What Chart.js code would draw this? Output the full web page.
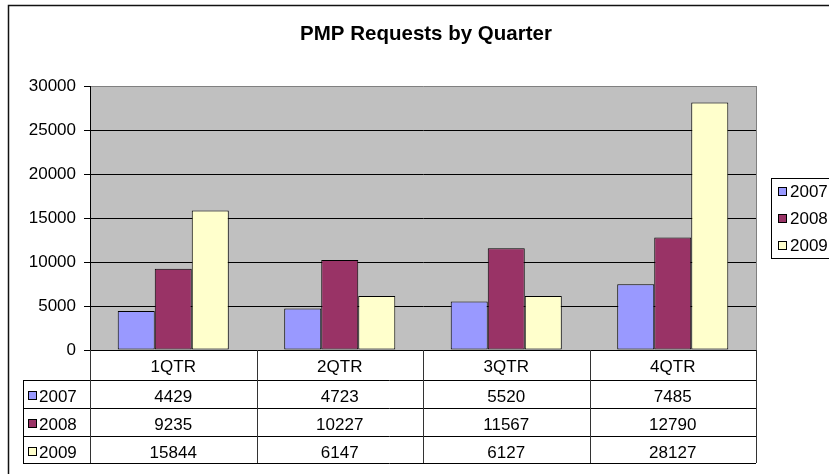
<!DOCTYPE html>
<html lang="en">
<head>
    <meta charset="UTF-8">
    <script src="https://cdn.jsdelivr.net/npm/chart.js"></script>
    <title>PMP Requests by Quarter</title>
    <style>
        body { margin: 0; background: #fff; }
        #wrap { width: 829px; height: 474px; }
    </style>
</head>
<body>
    <div id="wrap"><canvas id="myChart"></canvas></div>
    <script>
        const quarters = ['1QTR', '2QTR', '3QTR', '4QTR'];
        const years = ['2007', '2008', '2009'];
        const req2007 = [4429, 4723, 5520, 7485];
        const req2008 = [9235, 10227, 11567, 12790];
        const req2009 = [15844, 6147, 6127, 28127];
        const yMax = 30000;
        const yStep = 5000;
        const colors = ['#9999FF', '#993366', '#FFFFCC'];
        const FONT = '"Liberation Sans", Arial, sans-serif';

        // excel style bits: grey plot, title, frame, data table, side legend
        const excelBits = {
            id: 'excelBits',
            beforeDraw(chart) {
                const a = chart.chartArea;
                const ctx = chart.ctx;
                ctx.save();
                ctx.fillStyle = '#C0C0C0';
                ctx.fillRect(a.left, a.top, a.right - a.left, a.bottom - a.top);
                ctx.restore();
            },
            afterDraw(chart) {
                const a = chart.chartArea;
                const ctx = chart.ctx;
                const x = chart.scales.x;
                const sets = chart.data.datasets;
                ctx.save();

                // plot edge right
                ctx.strokeStyle = '#808080';
                ctx.lineWidth = 1;
                ctx.beginPath();
                ctx.moveTo(a.right + 0.5, a.top);
                ctx.lineTo(a.right + 0.5, a.bottom);
                ctx.stroke();

                // outer frame (cut at right and bottom)
                ctx.strokeStyle = '#111';
                ctx.lineWidth = 1.5;
                ctx.beginPath();
                ctx.moveTo(8.5, 474);
                ctx.lineTo(8.5, 5.5);
                ctx.lineTo(829, 5.5);
                ctx.stroke();

                // title
                ctx.fillStyle = '#000';
                ctx.font = 'bold 20.5px ' + FONT;
                ctx.textAlign = 'center';
                ctx.textBaseline = 'alphabetic';
                ctx.fillText('PMP Requests by Quarter', 426, 40);

                // data table
                const half = (a.right - a.left) / quarters.length / 2;
                const tableLeft = 23;
                const headTop = a.bottom;
                const rows = [headTop + 30, headTop + 58, headTop + 86, headTop + 113];
                ctx.lineWidth = 1;
                ctx.strokeStyle = '#000';
                ctx.beginPath();
                rows.forEach(r => {
                    ctx.moveTo(tableLeft, Math.round(r) + 0.5);
                    ctx.lineTo(a.right, Math.round(r) + 0.5);
                });
                ctx.moveTo(tableLeft + 0.5, rows[0]);
                ctx.lineTo(tableLeft + 0.5, rows[3]);
                ctx.stroke();
                ctx.strokeStyle = '#333';
                ctx.beginPath();
                for (let i = 0; i <= quarters.length; i++) {
                    const px = Math.round(a.left + i * half * 2) + 0.5;
                    ctx.moveTo(px, headTop);
                    ctx.lineTo(px, rows[3]);
                }
                ctx.stroke();

                ctx.font = '17px ' + FONT;
                ctx.fillStyle = '#000';
                quarters.forEach((q, i) => {
                    const cx = x.getPixelForValue(i);
                    ctx.textAlign = 'center';
                    ctx.fillText(q, cx, headTop + 22);
                    sets.forEach((ds, j) => {
                        ctx.fillText(String(ds.data[i]), cx, rows[j] + 21.5);
                    });
                });
                sets.forEach((ds, j) => {
                    ctx.fillStyle = ds.backgroundColor;
                    ctx.fillRect(28.5, rows[j] + 11.5, 8, 8);
                    ctx.strokeStyle = '#000';
                    ctx.strokeRect(28.5, rows[j] + 11.5, 8, 8);
                    ctx.fillStyle = '#000';
                    ctx.textAlign = 'left';
                    ctx.fillText(ds.label, 39, rows[j] + 21.5);
                });

                // side legend
                ctx.strokeStyle = '#000';
                ctx.strokeRect(771.5, 178.5, 80, 80);
                sets.forEach((ds, j) => {
                    const cy = 191 + j * 27;
                    ctx.fillStyle = ds.backgroundColor;
                    ctx.fillRect(778.5, cy - 3.5, 8, 8);
                    ctx.strokeRect(778.5, cy - 3.5, 8, 8);
                    ctx.fillStyle = '#000';
                    ctx.textAlign = 'left';
                    ctx.fillText(ds.label, 790, cy + 6);
                });
                ctx.restore();
            }
        };

        const series = [req2007, req2008, req2009];
        const ctx = document.getElementById('myChart');
        new Chart(ctx, {
            type: 'bar',
            data: {
                labels: quarters,
                datasets: years.map((y, i) => ({
                    label: y,
                    data: series[i],
                    backgroundColor: colors[i],
                    borderColor: '#000',
                    borderWidth: 1,
                    borderSkipped: false,
                    barPercentage: 1.0,
                    categoryPercentage: 0.667
                }))
            },
            options: {
                responsive: true,
                maintainAspectRatio: false,
                animation: false,
                layout: { padding: { top: 86, bottom: 124, right: 73, left: 0 } },
                scales: {
                    x: { display: false },
                    y: {
                        min: 0,
                        max: yMax,
                        afterFit: (scale) => { scale.width = 90; },
                        ticks: {
                            stepSize: yStep,
                            color: '#000',
                            padding: 8,
                            font: { family: FONT, size: 17 },
                            callback: (v) => String(v)
                        },
                        grid: {
                            color: (c) => c.tick && c.tick.value === yMax ? '#808080' : '#000',
                            tickColor: '#000',
                            tickLength: 6
                        },
                        border: { color: '#000' }
                    }
                },
                plugins: {
                    legend: { display: false },
                    tooltip: { enabled: false }
                }
            },
            plugins: [excelBits]
        });
    </script>
</body>
</html>
